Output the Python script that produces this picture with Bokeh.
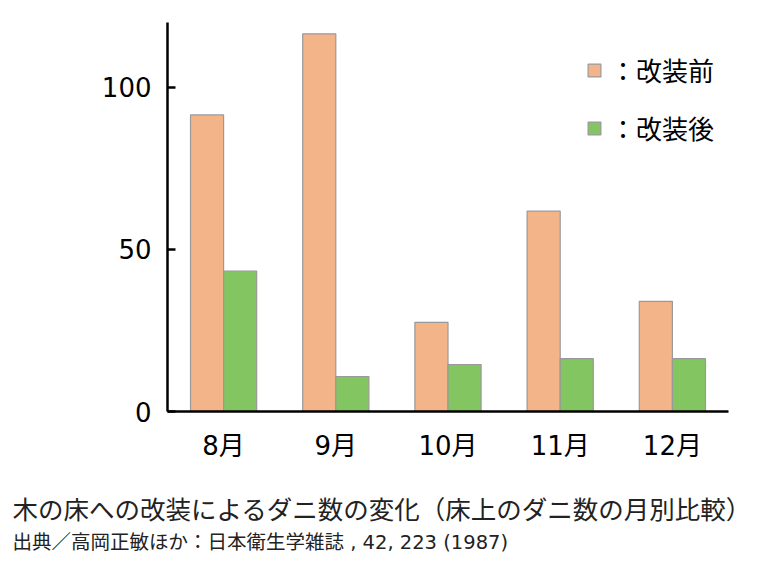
from bokeh.plotting import figure
from bokeh.layouts import column
from bokeh.models import (ColumnDataSource, FactorRange, Range1d, Legend, LegendItem,
                          Label, FixedTicker)
from bokeh.transform import dodge
from bokeh.embed import file_html
from bokeh.resources import INLINE

months = ["8月", "9月", "10月", "11月", "12月"]
before = [91.5, 116.5, 27.5, 61.8, 34.0]
after = [43.3, 10.8, 14.5, 16.3, 16.3]
y_ticks = [0, 50, 100]
legend_labels = ["：改装前", "：改装後"]
title_text = "木の床への改装によるダニ数の変化（床上のダニ数の月別比較）"
source_text = "出典／高岡正敏ほか：日本衛生学雑誌 , 42, 223 (1987)"

src = ColumnDataSource(dict(month=months, before=before, after=after))

p = figure(x_range=FactorRange(*months, range_padding=0), y_range=Range1d(0, 120),
           width=752, height=463, output_backend="svg", toolbar_location=None,
           min_border_left=167, min_border_right=24, min_border_top=22, min_border_bottom=50)
p.outline_line_color = None
p.grid.grid_line_color = None
p.background_fill_color = "white"
p.border_fill_color = "white"
p.frame_align = False

bw = 0.295
r1 = p.vbar(x=dodge("month", -bw / 2, range=p.x_range), top="before", width=bw, source=src,
            fill_color="#F4B48A", line_color="#999999", line_width=1.2)
r2 = p.vbar(x=dodge("month", bw / 2, range=p.x_range), top="after", width=bw, source=src,
            fill_color="#83C561", line_color="#999999", line_width=1.2)

TICK_FONT = "DejaVu Sans, 'Noto Sans CJK JP'"

yax = p.yaxis[0]
yax.ticker = FixedTicker(ticks=y_ticks)
yax.axis_line_width = 2.5
yax.axis_line_color = "black"
yax.major_tick_in = 8
yax.major_tick_out = 0
yax.major_tick_line_width = 2.5
yax.minor_tick_line_color = None
yax.major_label_text_font = TICK_FONT
yax.major_label_text_font_size = "26px"
yax.major_label_text_color = "black"
yax.major_label_standoff = 16

xax = p.xaxis[0]
xax.axis_line_width = 2.5
xax.axis_line_color = "black"
xax.major_tick_line_color = None
xax.minor_tick_line_color = None
xax.major_label_text_font = TICK_FONT
xax.major_label_text_font_size = "26px"
xax.major_label_text_color = "black"
xax.major_label_standoff = 13

legend = Legend(items=[LegendItem(label=legend_labels[0], renderers=[r1]),
                       LegendItem(label=legend_labels[1], renderers=[r2])],
                location=(419, 265), padding=0, margin=0, spacing=21,
                glyph_width=16, glyph_height=16, label_height=26, label_standoff=8,
                label_text_font="Noto Sans CJK JP", label_text_font_size="26px",
                label_text_color="black", border_line_color=None,
                background_fill_alpha=0)
p.add_layout(legend, "center")

# caption figure (page-pixel coordinate space)
cap = figure(width=752, height=92, x_range=Range1d(0, 752), y_range=Range1d(0, 92),
             output_backend="svg", toolbar_location=None,
             x_axis_location=None, y_axis_location=None,
             min_border=0, min_border_left=0, min_border_right=0,
             min_border_top=0, min_border_bottom=0)
cap.outline_line_color = None
cap.grid.grid_line_color = None
cap.border_fill_color = "white"
cap.frame_align = False
cap.add_layout(Label(x=12, y=48, text=title_text, text_font="Noto Sans CJK JP",
                     text_font_size="25.5px", text_baseline="middle", text_align="left",
                     text_color="#222222"))
cap.add_layout(Label(x=12, y=13, text=source_text, text_font=TICK_FONT,
                     text_font_size="19.5px", text_baseline="middle", text_align="left",
                     text_color="#222222"))

layout = column(p, cap, spacing=0)
open("out.html", "w").write(file_html(layout, INLINE))
